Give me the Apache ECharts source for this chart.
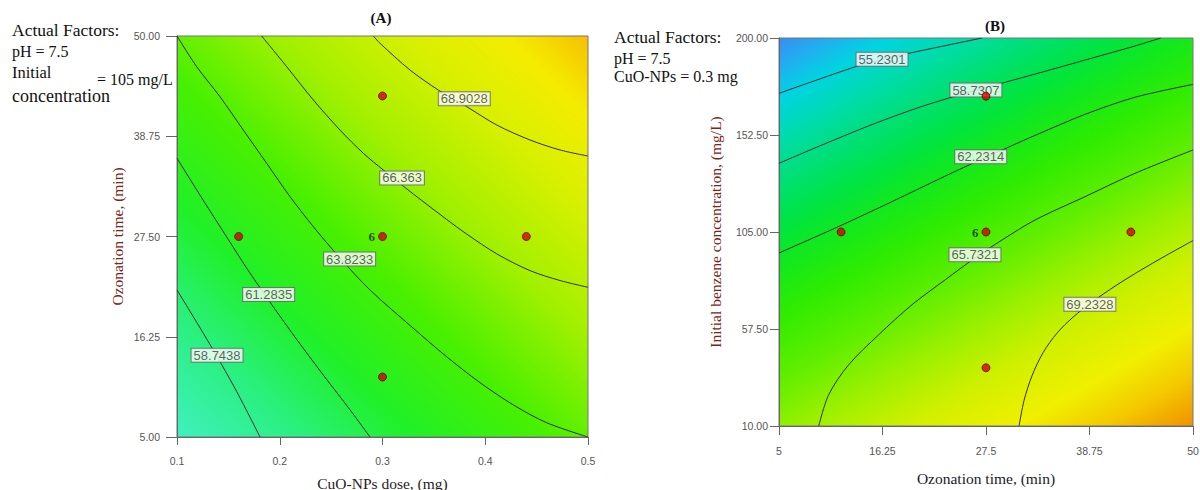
<!DOCTYPE html>
<html><head><meta charset="utf-8">
<script src="https://cdn.jsdelivr.net/npm/echarts@6/dist/echarts.min.js"></script>
<style>html,body{margin:0;padding:0;background:#fff;} #c{width:1200px;height:490px;}</style>
</head><body><div id="c"></div>
<script>
// ---------- Panel A : CuO-NPs dose (x) vs Ozonation time (y) ----------
const aXTicks = [0.1, 0.2, 0.3, 0.4, 0.5];
const aYTicks = [5, 16.25, 27.5, 38.75, 50];
const aLevels = ['58.7438', '61.2835', '63.8233', '66.363', '68.9028'];
const aC1 = [[0.1,21.5],[0.1127,19.1],[0.1256,16.64],[0.1386,14.1],[0.1548,10.8],[0.1678,7.95],[0.1808,5]];
const aC2 = [[0.1,36.28],[0.1248,31.7],[0.15,27.15],[0.1678,23.95],[0.1889,20.4],[0.2165,15.95],[0.2424,11.95],[0.2684,8.05],[0.2878,5]];
const aC3 = [[0.1,50],[0.1192,46.55],[0.1418,43.19],[0.1645,39.45],[0.1873,35.71],[0.21,31.97],[0.2327,28.6],[0.2586,25.09],[0.2878,21.5],[0.33,17.2],[0.3625,14.0],[0.3949,11.1],[0.4273,8.6],[0.4598,6.6],[0.5,5]];
const aC4 = [[0.1824,50],[0.2068,46.55],[0.2327,42.82],[0.2586,39.45],[0.2813,36.84],[0.3008,34.96],[0.33,32.27],[0.3625,29.41],[0.382,27.77],[0.4112,25.55],[0.4436,23.67],[0.4728,22.56],[0.5,21.8]];
const aC5 = [[0.2911,50],[0.2976,49.18],[0.3268,46.18],[0.3543,43.94],[0.382,42.07],[0.4112,40.01],[0.4436,38.33],[0.4728,37.21],[0.5,36.53]];
const aContours = [aC1, aC2, aC3, aC4, aC5];
const aLabelAt = [[0.139,14.16],[0.1892,21.0],[0.268,24.97],[0.319,34.07],[0.3796,42.97]];
const aDesign = [[0.16,27.5],[0.3,27.5],[0.44,27.5],[0.3,43.27],[0.3,11.73]];
const aReps = [1, 6, 1, 1, 1];

// ---------- Panel B : Ozonation time (x) vs Initial benzene conc. (y) ----------
const bXTicks = [5, 16.25, 27.5, 38.75, 50];
const bYTicks = [10, 57.5, 105, 152.5, 200];
const bLevels = ['55.2301', '58.7307', '62.2314', '65.7321', '69.2328'];
const bC1 = [[5,172.9],[13.29,185.9],[16.2,189.5],[19.1,192.5],[27.07,200]];
const bC2 = [[5,138.64],[9.67,147.6],[15.11,157.6],[20.54,166.5],[26.3,174.3],[29.57,178.3],[34.64,184.6],[40.08,191.5],[43.7,196.1],[46.5,200]];
const bC3 = [[5,94.72],[11.49,107.7],[16.92,119.1],[24.16,134.7],[29.92,146.5],[32.83,152.3],[38.26,162.6],[43.7,171.0],[50,177.3]];
const bC4 = [[9.32,10],[10.4,25.33],[12.58,40.02],[15.84,54.71],[19.46,69.4],[23.08,81.64],[26.3,92.27],[29.24,101.08],[32.83,110.88],[38.26,122.29],[43.7,133.75],[50,145.16]];
const bC5 = [[31.09,10],[31.63,22.4],[32.5,34.6],[33.7,45.9],[35.22,55.5],[36.96,63.3],[39.02,70.7],[41.63,78.8],[44.24,86.1],[46.96,93.2],[50,100.8]];
const bContours = [bC1, bC2, bC3, bC4, bC5];
const bLabelAt = [[16.2,189.6],[26.4,174.5],[26.93,141.9],[26.3,93.8],[38.79,69.6]];
const bDesign = [[11.75,105],[27.5,105],[43.25,105],[27.5,171.5],[27.5,38.5]];
const bReps = [1, 6, 1, 1, 1];

// ---------- styling ----------
const SERIF = '"Liberation Serif", "Times New Roman", serif';
const SANS = '"Liberation Sans", Arial, sans-serif';

const gradA = {type:'linear', x:0, y:1, x2:1, y2:0, colorStops:[
  {offset:0, color:'#40f0c0'},
  {offset:0.15, color:'#2af080'},
  {offset:0.29, color:'#20f028'},
  {offset:0.45, color:'#48f000'},
  {offset:0.62, color:'#a0f000'},
  {offset:0.78, color:'#d8f000'},
  {offset:0.9, color:'#f4ec00'},
  {offset:1, color:'#f8c000'}]};
const gradB = {type:'linear', x:0, y:0, x2:0.706, y2:1.176, colorStops:[
  {offset:0, color:'#3a8cf0'},
  {offset:0.05, color:'#20b0f0'},
  {offset:0.1, color:'#00d4e0'},
  {offset:0.17, color:'#00dca8'},
  {offset:0.24, color:'#00e070'},
  {offset:0.3, color:'#00e444'},
  {offset:0.36, color:'#10e820'},
  {offset:0.45, color:'#30ec00'},
  {offset:0.55, color:'#60ee00'},
  {offset:0.64, color:'#98f000'},
  {offset:0.74, color:'#d0f000'},
  {offset:0.84, color:'#f0f000'},
  {offset:0.92, color:'#f4c800'},
  {offset:1, color:'#f09000'}]};

function makeAxis(grid, min, max, ticks, fmt, tickLen, margin, name, nameGap, nameColor) {
  return {
    gridIndex: grid, type:'value', min:min, max:max,
    axisLine:{show:true, onZero:false, lineStyle:{color:'#666', width:1}},
    axisTick:{show:true, length:tickLen, customValues:ticks, lineStyle:{color:'#666'}},
    axisLabel:{customValues:ticks, formatter:fmt, margin:margin, color:'#555', fontSize:10.5, fontFamily:SANS},
    splitLine:{show:false},
    name:name, nameLocation:'middle', nameGap:nameGap,
    nameTextStyle:{fontFamily:SERIF, fontSize:15.5, color:nameColor}
  };
}

function panelSeries(idx, levels, contours, labelAt, design, reps) {
  const s = [];
  contours.forEach(function(pts){
    s.push({type:'line', xAxisIndex:idx, yAxisIndex:idx, data:pts, smooth:0.3,
      symbol:'none', showSymbol:false, silent:true, clip:true, z:2,
      lineStyle:{color:'#2e2e2e', width:1}});
  });
  s.push({type:'scatter', xAxisIndex:idx, yAxisIndex:idx, z:3, silent:true,
    symbol:'rect', symbolSize:1, itemStyle:{color:'rgba(0,0,0,0)'},
    data: labelAt.map(function(p,i){ return {value:p, name:levels[i]}; }),
    label:{show:true, position:'inside', formatter:'{b}', color:'#3a3a3a', fontSize:13, fontFamily:SANS,
      backgroundColor:'#ffffff', borderColor:'#666', borderWidth:1, padding:[0,2,0,2]}});
  s.push({type:'scatter', xAxisIndex:idx, yAxisIndex:idx, z:4, silent:true,
    symbol:'circle', symbolSize:8,
    itemStyle:{color:'#d40000', borderColor:'#6a0000', borderWidth:1},
    data: design,
    label:{show:true, position:'left', distance:3, color:'#222', fontSize:13, fontWeight:'bold', fontFamily:SERIF,
      formatter:function(p){ return reps[p.dataIndex] > 1 ? String(reps[p.dataIndex]) : ''; }}});
  return s;
}

function txt(x, y, t, size) {
  return {type:'text', x:x, y:y, silent:true,
    style:{text:t, font:(size || 16) + 'px ' + SERIF, fill:'#111', textVerticalAlign:'middle'}};
}

const chart = echarts.init(document.getElementById('c'), null, {renderer:'svg', width:1200, height:490});
chart.setOption({
  animation:false,
  backgroundColor:'#ffffff',
  grid:[
    {left:177, top:36, width:411, height:401, containLabel:false, outerBoundsMode:'none',
      show:true, borderColor:'#777', borderWidth:1, backgroundColor:gradA},
    {left:779, top:38, width:414, height:388, containLabel:false, outerBoundsMode:'none',
      show:true, borderColor:'#777', borderWidth:1, backgroundColor:gradB}
  ],
  xAxis:[
    makeAxis(0, 0.1, 0.5, aXTicks, function(v){return v.toFixed(1);}, 8, 18, 'CuO-NPs dose, (mg)', 38, '#2a1a24'),
    makeAxis(1, 5, 50, bXTicks, function(v){return String(v);}, 9, 19, 'Ozonation time, (min)', 44, '#1a1a2a')
  ],
  yAxis:[
    makeAxis(0, 5, 50, aYTicks, function(v){return v.toFixed(2);}, 11, 17, 'Ozonation time, (min)', 52, '#7a2418'),
    makeAxis(1, 10, 200, bYTicks, function(v){return v.toFixed(2);}, 9, 11, 'Initial benzene concentration, (mg/L)', 56, '#7a2418')
  ],
  graphic:[
    txt(12, 30, 'Actual Factors:', 17.5),
    txt(12, 51, 'pH = 7.5', 16),
    txt(12, 72, 'Initial', 16.5),
    txt(97, 79, '= 105 mg/L', 16),
    txt(12, 96, 'concentration', 18),
    txt(614, 37, 'Actual Factors:', 17.5),
    txt(614, 58, 'pH = 7.5', 16),
    txt(614, 76, 'CuO-NPs = 0.3 mg', 16),
    {type:'text', x:381, y:18, silent:true, style:{text:'(A)', font:'bold 15px ' + SERIF, fill:'#111', textAlign:'center', textVerticalAlign:'middle'}},
    {type:'text', x:995, y:26, silent:true, style:{text:'(B)', font:'bold 15px ' + SERIF, fill:'#111', textAlign:'center', textVerticalAlign:'middle'}}
  ],
  series: panelSeries(0, aLevels, aContours, aLabelAt, aDesign, aReps)
    .concat(panelSeries(1, bLevels, bContours, bLabelAt, bDesign, bReps))
});
</script></body></html>
